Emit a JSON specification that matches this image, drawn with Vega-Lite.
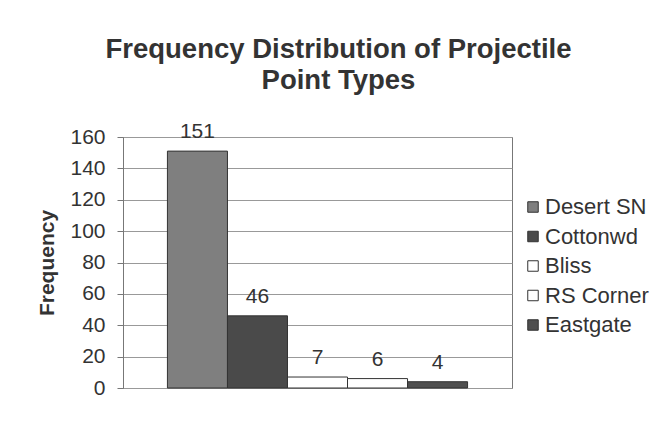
{
  "$schema": "https://vega.github.io/schema/vega-lite/v6.json",
  "width": 389,
  "height": 251,
  "autosize": {"type": "none"},
  "padding": {"left": 123, "top": 137, "right": 147, "bottom": 51},
  "background": "white",
  "title": {
    "text": ["Frequency Distribution of Projectile", "Point Types"],
    "font": "Liberation Sans",
    "fontSize": 27.5,
    "fontWeight": "bold",
    "color": "#333333",
    "anchor": "middle",
    "dx": 21,
    "offset": 27,
    "lineHeight": 31
  },
  "data": {
    "values": [
      {"type": "Desert SN", "frequency": 151},
      {"type": "Cottonwd", "frequency": 46},
      {"type": "Bliss", "frequency": 7},
      {"type": "RS Corner", "frequency": 6},
      {"type": "Eastgate", "frequency": 4}
    ]
  },
  "encoding": {
    "x": {
      "field": "type",
      "type": "nominal",
      "sort": null,
      "scale": {"paddingInner": 0, "paddingOuter": 0.74},
      "axis": null
    },
    "y": {
      "field": "frequency",
      "type": "quantitative",
      "scale": {"domain": [0, 160]},
      "axis": {
        "values": [0, 20, 40, 60, 80, 100, 120, 140, 160],
        "title": "Frequency",
        "titleFont": "Liberation Sans",
        "titleFontSize": 21,
        "titleFontWeight": "bold",
        "titleColor": "#333333",
        "titlePadding": 12,
        "labelFont": "Liberation Sans",
        "labelFontSize": 21,
        "labelColor": "#333333",
        "labelPadding": 12,
        "tickSize": 6,
        "tickColor": "#777777",
        "domainColor": "#777777",
        "gridColor": "#999999",
        "grid": true
      }
    }
  },
  "layer": [
    {
      "mark": {"type": "bar", "stroke": "#333333", "strokeWidth": 1},
      "encoding": {
        "fill": {
          "field": "type",
          "type": "nominal",
          "sort": null,
          "scale": {
            "domain": ["Desert SN", "Cottonwd", "Bliss", "RS Corner", "Eastgate"],
            "range": ["#7f7f7f", "#4a4a4a", "#ffffff", "#ffffff", "#4f4f4f"]
          },
          "legend": {
            "title": null,
            "orient": "none",
            "legendX": 399,
            "legendY": 59,
            "padding": 0,
            "symbolType": "square",
            "symbolSize": 110,
            "symbolStrokeColor": "#333333",
            "symbolStrokeWidth": 1,
            "labelFont": "Liberation Sans",
            "labelFontSize": 22,
            "labelColor": "#333333",
            "labelOffset": 1,
            "labelLimit": 200,
            "rowPadding": 7.5
          }
        }
      }
    },
    {
      "mark": {
        "type": "text",
        "baseline": "bottom",
        "dy": -9,
        "font": "Liberation Sans",
        "fontSize": 21,
        "color": "#333333"
      },
      "encoding": {"text": {"field": "frequency", "type": "quantitative"}}
    }
  ],
  "config": {
    "view": {"stroke": "#777777"}
  }
}
